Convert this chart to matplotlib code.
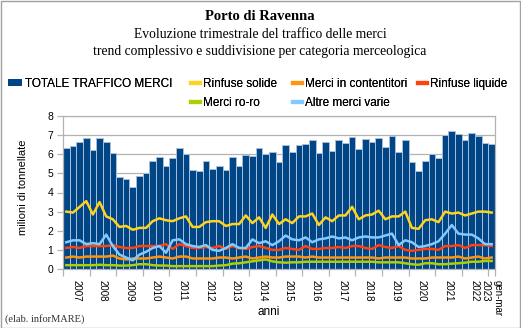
import matplotlib
matplotlib.use("Agg")
import matplotlib.pyplot as plt
from matplotlib.patches import Rectangle, Patch
from matplotlib.lines import Line2D
import numpy as np

years = ["2007", "2008", "2009", "2010", "2011", "2012", "2013", "2014",
         "2015", "2016", "2017", "2018", "2019", "2020", "2021", "2022"]
last_label = "gen-mar\n2023"

totale = [6.33, 6.42, 6.65, 6.86, 6.21, 6.87, 6.65, 6.09,
          4.82, 4.68, 4.30, 4.84, 5.01, 5.65, 5.85, 5.38,
          5.80, 6.32, 5.99, 5.17, 5.12, 5.67, 5.22, 5.38,
          5.17, 5.88, 5.41, 5.97, 5.90, 6.33, 6.00, 6.14,
          5.62, 6.47, 6.11, 6.47, 6.54, 6.72, 6.06, 6.63,
          6.19, 6.77, 6.58, 6.89, 6.28, 6.82, 6.66, 6.86,
          6.39, 6.94, 6.14, 6.73, 5.59, 5.13, 5.65, 6.00,
          5.79, 7.00, 7.21, 7.07, 6.73, 7.12, 6.93, 6.60,
          6.53]
rinfuse_solide = [3.0, 2.95, 3.25, 3.55, 2.85, 3.5, 2.75, 2.6,
                  2.2, 2.25, 2.05, 2.15, 2.15, 2.5, 2.65, 2.55,
                  2.5, 2.65, 2.75, 2.2, 2.2, 2.45, 2.5, 2.5,
                  2.25, 2.35, 2.35, 2.8, 2.4, 2.7, 2.15, 2.85,
                  2.35, 2.6, 2.4, 2.75, 2.75, 2.9, 2.3, 2.7,
                  2.5, 2.8, 2.8, 3.25, 2.6, 2.8, 2.85, 3.05,
                  2.6, 2.75, 2.75, 3.0, 2.15, 2.1, 2.55, 2.6,
                  2.45, 3.0, 2.9, 2.95, 2.8, 2.9, 3.0, 3.0,
                  2.95]
contenitori = [0.6, 0.65, 0.6, 0.65, 0.65, 0.65, 0.65, 0.7,
               0.55, 0.5, 0.55, 0.55, 0.55, 0.6, 0.65, 0.6,
               0.55, 0.65, 0.65, 0.55, 0.55, 0.55, 0.55, 0.6,
               0.6, 0.55, 0.6, 0.65, 0.55, 0.6, 0.65, 0.6,
               0.6, 0.65, 0.65, 0.65, 0.6, 0.65, 0.6, 0.6,
               0.6, 0.6, 0.6, 0.6, 0.6, 0.6, 0.6, 0.55,
               0.6, 0.6, 0.6, 0.6, 0.55, 0.55, 0.55, 0.6,
               0.6, 0.6, 0.6, 0.65, 0.55, 0.6, 0.65, 0.55,
               0.6]
rinfuse_liquide = [1.1, 1.15, 1.1, 1.2, 1.2, 1.2, 1.2, 1.25,
                   1.15, 1.1, 1.1, 1.2, 1.2, 1.2, 1.2, 1.3,
                   1.05, 1.3, 1.2, 1.1, 1.1, 1.15, 1.1, 1.2,
                   1.05, 1.2, 1.1, 1.05, 1.15, 1.2, 1.1, 1.0,
                   1.0, 1.1, 1.05, 1.0, 1.2, 1.05, 1.05, 1.1,
                   1.1, 1.15, 1.1, 1.2, 1.2, 1.1, 1.05, 1.25,
                   1.15, 1.1, 1.2, 1.0, 0.95, 1.0, 1.05, 1.05,
                   1.0, 1.2, 1.2, 1.25, 1.1, 1.25, 1.25, 1.25,
                   1.2]
roro = [0.2, 0.2, 0.2, 0.2, 0.2, 0.22, 0.2, 0.2,
        0.18, 0.18, 0.2, 0.25, 0.25, 0.2, 0.18, 0.18,
        0.15, 0.15, 0.15, 0.15, 0.15, 0.15, 0.15, 0.18,
        0.2, 0.28, 0.3, 0.35, 0.4, 0.45, 0.5, 0.4,
        0.35, 0.33, 0.35, 0.35, 0.38, 0.38, 0.38, 0.38,
        0.38, 0.38, 0.38, 0.38, 0.38, 0.38, 0.38, 0.35,
        0.35, 0.35, 0.35, 0.3, 0.25, 0.22, 0.3, 0.3,
        0.25, 0.25, 0.28, 0.3, 0.33, 0.38, 0.38, 0.42,
        0.42]
altre = [1.4, 1.5, 1.5, 1.3, 1.35, 1.3, 1.8, 1.2,
         0.75, 0.6, 0.45, 0.75, 0.9, 1.1, 1.2, 0.85,
         1.5, 1.55, 1.3, 1.2, 1.15, 1.25, 1.0, 0.95,
         1.1, 1.3, 1.1, 1.1, 1.55, 1.35, 1.45, 1.25,
         1.45, 1.75, 1.55, 1.5, 1.65, 1.4, 1.55, 1.6,
         1.7, 1.6, 1.65, 1.5, 1.65, 1.7, 1.65, 1.65,
         1.75, 1.85, 1.25, 1.5, 1.4, 1.15, 1.2, 1.3,
         1.45, 1.85, 2.3, 1.85, 1.8, 1.8, 1.6, 1.3,
         1.3]

plt.rcParams['font.family'] = ['Liberation Sans', 'DejaVu Sans']

W, H = 521, 328
fig = plt.figure(figsize=(W / 100, H / 100), dpi=100)
fig.patch.set_facecolor('white')

ax = fig.add_axes([63 / W, (H - 269) / H, 432 / W, 153 / H])
x = np.arange(len(totale))

ax.bar(x, totale, width=1.0, color='#004586', edgecolor='#a8bedb',
       linewidth=0.7, zorder=2)
lines = [
    (rinfuse_solide, '#ffd320'),
    (contenitori, '#ff950e'),
    (rinfuse_liquide, '#ff420e'),
    (roro, '#aecf00'),
    (altre, '#83caff'),
]
order = [3, 1, 2, 4, 0]
for idx in order:
    vals, col = lines[idx]
    ax.plot(x, vals, color=col, lw=1.8, zorder=3, solid_joinstyle='round')

ax.set_xlim(-0.5, len(totale) - 0.5)
ax.set_ylim(0, 8)
ax.set_yticks(range(0, 9))
ax.yaxis.grid(True, color='#b3b3b3', lw=0.9, zorder=0)
ax.set_axisbelow(True)
for s in ax.spines.values():
    s.set_color('#b3b3b3')
    s.set_linewidth(0.9)

bounds = [-0.5 + 4 * k for k in range(len(years) + 1)] + [len(totale) - 0.5]
ax.set_xticks(bounds)
ax.set_xticklabels([])
label_pos = [1.5 + 4 * k for k in range(len(years))] + [len(totale) - 1]
ax.set_xticks(label_pos, minor=True)
ax.set_xticklabels(years + [last_label], minor=True, rotation=270,
                   fontsize=7, va='top', ha='center', multialignment='left')
ax.tick_params(axis='x', which='major', direction='out', length=5,
               color='#b3b3b3', width=0.9)
ax.tick_params(axis='x', which='minor', length=0, pad=8)
ax.tick_params(axis='y', direction='out', length=4, color='#b3b3b3',
               width=0.9, labelsize=7.5, pad=3)

ax.set_xlabel('anni', fontsize=8.5)
ax.xaxis.set_label_coords((269 - 63) / 432, (269 - 306) / 153)
ax.set_ylabel('milioni di tonnellate', fontsize=8)
ax.yaxis.set_label_coords((28 - 63) / 432, (269 - 187) / 153)

serif = ['Liberation Serif', 'DejaVu Serif']
fig.text(260 / W, 1 - 17 / H, 'Porto di Ravenna', ha='center', va='center',
         fontsize=10.5, fontweight='bold', family=serif)
fig.text(260 / W, 1 - 35 / H, 'Evoluzione trimestrale del traffico delle merci',
         ha='center', va='center', fontsize=9.8, family=serif)
fig.text(260 / W, 1 - 52 / H,
         'trend complessivo e suddivisione per categoria merceologica',
         ha='center', va='center', fontsize=9.8, family=serif)
fig.text(5 / W, 1 - 319 / H, '(elab. inforMARE)', ha='left', va='center',
         fontsize=7.5, family=serif, color='#333333')

names = ['TOTALE TRAFFICO MERCI', 'Rinfuse solide', 'Merci in contentitori',
         'Rinfuse liquide', 'Merci ro-ro', 'Altre merci varie']
h_tot = Patch(facecolor='#004586', edgecolor='none')
h = {names[0]: h_tot}
for nm, (vals, col) in zip(names[1:], lines):
    h[nm] = Line2D([], [], color=col, lw=3)

cols = [(8, [names[0]], 1.15), (191, [names[1], names[4]], 0.8),
        (293, [names[2], names[5]], 0.8), (418, [names[3]], 0.8)]
for xpix, labs, hl in cols:
    lg = fig.legend([h[l] for l in labs], labs, loc='upper left',
                    bbox_to_anchor=(xpix / W, 1 - 78 / H), frameon=False,
                    fontsize=8.5, handlelength=hl, handleheight=0.5,
                    handletextpad=0.25, labelspacing=0.6, borderpad=0,
                    borderaxespad=0)
    fig.add_artist(lg)

fig.add_artist(Rectangle((0.5 / W, 0.5 / H), 1 - 1.5 / W, 1 - 1.5 / H,
                         transform=fig.transFigure, fill=False,
                         edgecolor='#a0a0a0', lw=1))

fig.savefig('out.png', dpi=100)
